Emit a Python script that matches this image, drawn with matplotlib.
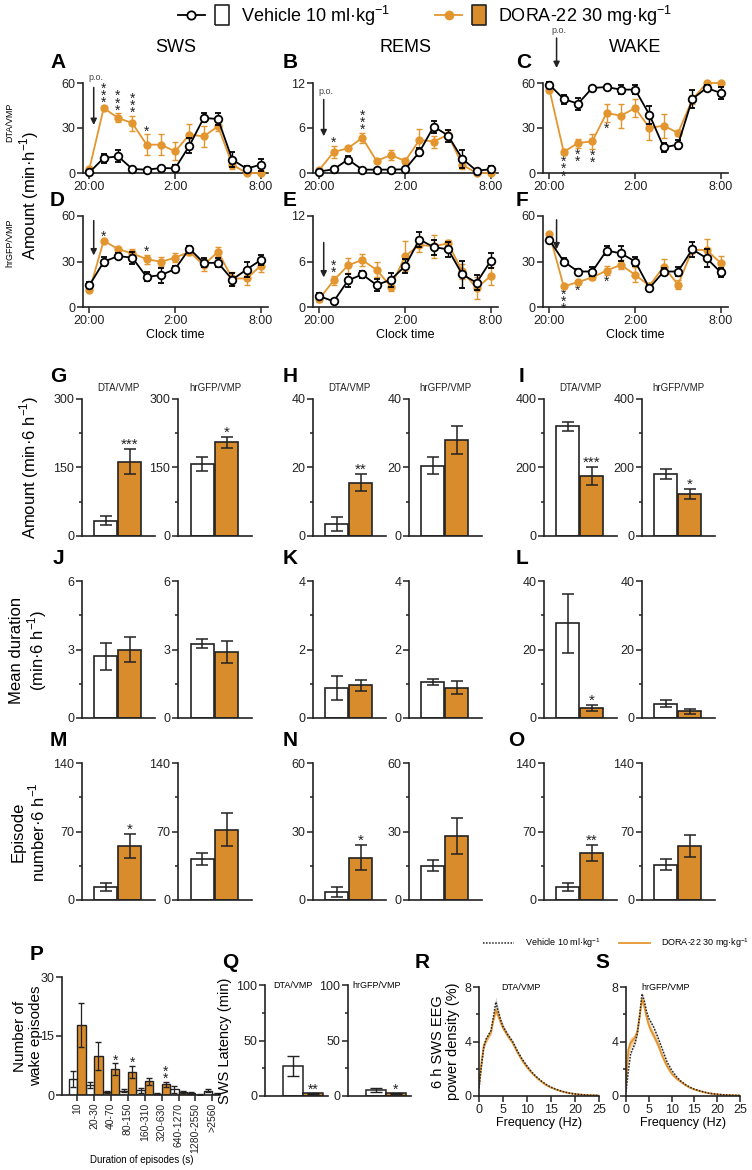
import numpy as np
import matplotlib
matplotlib.use('Agg')
import matplotlib.pyplot as plt
from matplotlib import font_manager
from matplotlib.lines import Line2D
from matplotlib.legend_handler import HandlerTuple
from matplotlib.ticker import MultipleLocator

names = {f.name for f in font_manager.fontManager.ttflist}
fam = 'Liberation Sans Narrow' if 'Liberation Sans Narrow' in names else 'Liberation Sans'
plt.rcParams['font.family'] = [fam, 'DejaVu Sans']
plt.rcParams['mathtext.fontset'] = 'custom'
plt.rcParams['mathtext.rm'] = fam
plt.rcParams['axes.linewidth'] = 1.2

ORG = '#E3962F'
BAR = '#D98C2C'
INK = '#222222'
W, H = 752, 1170

# ---- time course data (hours after 20:00) ----
hrs = [0, 1, 2, 3, 4, 5, 6, 7, 8, 9, 10, 11, 12]
hr_labels = ['20:00', '2:00', '8:00']

A_veh = [0.4, 10, 11.1, 2.7, 2.2, 3.3, 3.1, 18.2, 36.7, 36, 8.9, 2.9, 5.6]
A_veh_err = [0.5, 3, 4, 1, 1, 1.5, 2, 5, 3, 4, 5, 2, 4]
A_dora = [2.9, 43.3, 36.7, 33.3, 18.9, 18.9, 14.4, 25.6, 24.4, 31.1, 5.6, 0, 0]
A_dora_err = [1, 1.5, 3, 5, 7, 7, 6, 7, 7, 3, 3, 0.5, 0.5]

B_veh = [0.2, 0.5, 1.8, 0.45, 0.45, 0.45, 0.5, 2.8, 6.2, 5.0, 1.9, 0.3, 0.5]
B_veh_err = [0.2, 0.2, 0.5, 0.2, 0.2, 0.2, 0.2, 0.5, 0.8, 0.8, 1.2, 0.2, 0.5]
B_dora = [0.45, 2.8, 3.3, 4.7, 1.6, 2.4, 1.6, 4.4, 4.2, 5.1, 1.1, 0, 0]
B_dora_err = [0.2, 0.8, 0.2, 0.7, 0.3, 0.7, 0.4, 1.5, 0.8, 0.6, 0.6, 0.1, 0.1]

C_veh = [58.9, 49.3, 46.2, 56.7, 57.3, 55.6, 55.6, 38.9, 17.1, 18.9, 49.3, 56.7, 53.3]
C_veh_err = [1.5, 3, 4, 1, 1, 3, 3, 6, 3, 3, 6, 2, 4]
C_dora = [55.6, 14, 20, 21.1, 40, 38.2, 43.3, 30, 31.6, 26.7, 48.9, 60, 60]
C_dora_err = [1.5, 2, 3, 5, 6, 8, 6, 8, 8, 2, 3, 0.5, 0.5]

D_veh = [14.3, 29.8, 33.6, 32.5, 19.9, 21, 25, 38.5, 29.1, 29.1, 18.1, 24.7, 31]
D_veh_err = [2, 3, 2, 4, 3, 5, 2, 2, 3, 3, 4, 5, 3]
D_dora = [11, 43.7, 38.2, 35.3, 31.6, 29.8, 32.5, 36.4, 27.6, 36.5, 18.8, 18.8, 27.2]
D_dora_err = [1, 1, 1, 3, 3, 3, 3, 2, 4, 3, 4, 4, 4]

E_veh = [1.43, 0.74, 3.5, 4.3, 2.9, 3.6, 5.4, 8.9, 7.9, 7.6, 4.3, 3.2, 6.1]
E_veh_err = [0.4, 0.2, 0.8, 0.5, 0.8, 0.9, 0.9, 1, 1, 1, 1.8, 1, 1]
E_dora = [1.1, 3.5, 5.5, 6.2, 4.9, 2.7, 6.7, 8.2, 8.0, 8.4, 4.7, 2.5, 4.1]
E_dora_err = [0.5, 0.6, 1, 0.8, 1, 0.6, 2, 1, 1.5, 0.5, 1, 1.5, 1.2]

F_veh = [44.2, 30, 23.4, 23.4, 37.2, 35.4, 30, 12.5, 23.4, 23.4, 38, 32.2, 22.8]
F_veh_err = [1.5, 2.5, 1.5, 3, 3, 5, 3, 2, 2, 3, 5, 6, 3]
F_dora = [48.1, 13.6, 16.4, 19.5, 24, 27.8, 21.2, 14, 26.7, 14.7, 37.6, 37.6, 28.9]
F_dora_err = [1, 1, 1, 2, 3, 3, 5, 2, 5, 3, 2, 7, 5]

# ---- 6 h summaries: [vehicle, dora], DTA/VMP then hrGFP/VMP ----
G_dta, G_dta_err = [33, 163], [10, 28]
G_gfp, G_gfp_err = [158, 205], [15, 12]
H_dta, H_dta_err = [3.5, 15.5], [2, 2.5]
H_gfp, H_gfp_err = [20.5, 28], [2.5, 4]
I_dta, I_dta_err = [320, 175], [12, 25]
I_gfp, I_gfp_err = [180, 122], [15, 15]
J_dta, J_dta_err = [2.7, 3.0], [0.6, 0.55]
J_gfp, J_gfp_err = [3.25, 2.88], [0.2, 0.48]
K_dta, K_dta_err = [0.88, 0.95], [0.36, 0.16]
K_gfp, K_gfp_err = [1.05, 0.89], [0.08, 0.18]
L_dta, L_dta_err = [27.7, 2.9], [8.6, 0.8]
L_gfp, L_gfp_err = [4.2, 2.0], [1.0, 0.7]
M_dta, M_dta_err = [13.3, 55.3], [4.5, 12.5]
M_gfp, M_gfp_err = [42, 71.7], [6, 17]
N_dta, N_dta_err = [3.4, 18.5], [2.3, 5.5]
N_gfp, N_gfp_err = [15, 28], [2.5, 8]
O_dta, O_dta_err = [13.6, 47.9], [4, 8.5]
O_gfp, O_gfp_err = [36, 55.4], [5.5, 11]

# ---- wake episode distribution ----
dur_cats = ['10', '20-30', '40-70', '80-150', '160-310', '320-630', '640-1270', '1280-2550', '>2560']
P_veh = [4.1, 2.5, 0.7, 1.1, 1.2, 0.35, 1.4, 0.45, 1.1]
P_veh_err = [2.0, 0.7, 0.3, 0.4, 0.6, 0.15, 0.8, 0.3, 0.4]
P_dora = [17.8, 9.9, 6.6, 5.9, 3.5, 2.7, 0.8, 0.1, 0.35]
P_dora_err = [5.5, 3.6, 1.5, 1.5, 0.9, 0.7, 0.2, 0.1, 0.2]
P_stars = [0, 0, 1, 1, 0, 2, 0, 0, 0]

# ---- SWS latency ----
Q_dta, Q_dta_err = [27, 2.4], [9, 0.5]
Q_gfp, Q_gfp_err = [5.4, 2.4], [1.5, 0.6]

# ---- EEG spectra ----
freq = [0, 0.5, 1, 1.5, 2, 2.5, 3, 3.5, 4, 4.5, 5, 5.5, 6, 7, 8, 9, 10, 11, 12, 13,
        14, 15, 16, 17, 18, 19, 20, 21, 22, 23, 24, 25]
R_veh = [0.6, 2.2, 3.6, 4.2, 4.5, 4.8, 5.8, 6.9, 6.2, 5.6, 5.1, 4.8, 4.5, 4.0, 3.3, 2.7,
         2.2, 1.75, 1.4, 1.1, 0.85, 0.65, 0.5, 0.38, 0.28, 0.2, 0.15, 0.11, 0.08, 0.06, 0.05, 0.04]
R_veh_sem = [0.1, 0.2, 0.2, 0.2, 0.2, 0.2, 0.3, 0.4, 0.3, 0.2, 0.2, 0.15, 0.15, 0.1, 0.1, 0.1,
             0.08, 0.05, 0.05, 0.04, 0.03, 0.03, 0.02, 0.02, 0.02, 0.01, 0.01, 0.01, 0.01, 0.01, 0.01, 0.01]
R_dora = [0.7, 2.4, 3.7, 4.1, 4.4, 4.7, 5.6, 6.3, 5.9, 5.4, 5.0, 4.7, 4.4, 3.9, 3.2, 2.6,
          2.1, 1.7, 1.35, 1.05, 0.8, 0.62, 0.48, 0.36, 0.27, 0.2, 0.15, 0.11, 0.08, 0.06, 0.05, 0.04]
R_dora_sem = [0.1, 0.2, 0.2, 0.2, 0.2, 0.2, 0.25, 0.3, 0.25, 0.2, 0.2, 0.15, 0.15, 0.1, 0.1, 0.1,
              0.08, 0.05, 0.05, 0.04, 0.03, 0.03, 0.02, 0.02, 0.02, 0.01, 0.01, 0.01, 0.01, 0.01, 0.01, 0.01]
S_veh = [0.3, 1.8, 3.1, 3.5, 3.9, 4.6, 5.9, 7.5, 7.0, 6.2, 5.7, 5.4, 5.1, 4.3, 3.4, 2.5,
         1.9, 1.45, 1.1, 0.85, 0.65, 0.5, 0.4, 0.3, 0.22, 0.17, 0.13, 0.1, 0.08, 0.06, 0.05, 0.04]
S_veh_sem = [0.05, 0.1, 0.1, 0.1, 0.1, 0.1, 0.1, 0.15, 0.1, 0.1, 0.1, 0.1, 0.1, 0.1, 0.08, 0.06,
             0.05, 0.04, 0.03, 0.03, 0.02, 0.02, 0.02, 0.01, 0.01, 0.01, 0.01, 0.01, 0.01, 0.01, 0.01, 0.01]
S_dora = [0.8, 3.4, 3.9, 4.1, 4.3, 4.8, 5.9, 7.1, 6.6, 5.8, 5.2, 4.8, 4.5, 3.8, 2.9, 2.2,
          1.65, 1.3, 1.05, 0.8, 0.62, 0.48, 0.38, 0.29, 0.21, 0.16, 0.12, 0.09, 0.07, 0.06, 0.05, 0.04]
S_dora_sem = [0.3, 0.5, 0.4, 0.3, 0.3, 0.3, 0.3, 0.3, 0.3, 0.3, 0.3, 0.3, 0.3, 0.3, 0.25, 0.2,
              0.15, 0.1, 0.08, 0.06, 0.05, 0.04, 0.03, 0.02, 0.02, 0.01, 0.01, 0.01, 0.01, 0.01, 0.01, 0.01]


fig = plt.figure(figsize=(W / 100, H / 100), dpi=100)


def box(x0, y0, x1, y1):
    return fig.add_axes([x0 / W, 1 - y1 / H, (x1 - x0) / W, (y1 - y0) / H])


def ftext(x, y, s, **kw):
    fig.text(x / W, 1 - y / H, s, **kw)


def style(ax, fs=8.5):
    ax.spines['top'].set_visible(False)
    ax.spines['right'].set_visible(False)
    for s in ('left', 'bottom'):
        ax.spines[s].set_color(INK)
    ax.tick_params(colors=INK, labelsize=fs, length=4, width=1.1, pad=1.5)
    ax.tick_params(which='minor', length=2.5, width=1.1, colors=INK)


def stars(ax, x, y, n, up=True, fs=10):
    # stacked asterisks, like the original figure
    if n == 0:
        return
    s = '\n'.join(['*'] * n)
    ax.annotate(s, (x, y), xytext=(0, -3 if up else 0), textcoords='offset points',
                ha='center', va='bottom' if up else 'top', fontsize=fs,
                linespacing=0.38, annotation_clip=False, color=INK)


def time_panel(ax, veh, veh_e, dora, dora_e, ymax, star_list):
    c1 = ax.errorbar(hrs, dora, yerr=dora_e, color=ORG, marker='o', ms=5, mec=ORG,
                     lw=1.3, elinewidth=1, capsize=2.5, capthick=1, zorder=3)
    c2 = ax.errorbar(hrs, veh, yerr=veh_e, color='black', marker='o', ms=5.5, mfc='white',
                     mec='black', mew=1.3, lw=1.3, elinewidth=1, capsize=2.5, capthick=1, zorder=4)
    for c in (c1, c2):
        for a in c.get_children():
            a.set_clip_on(False)
    ax.set_xlim(-0.45, 12.5)
    ax.set_ylim(0, ymax)
    ax.set_yticks([0, ymax / 2, ymax])
    ax.set_yticklabels(['0', '%g' % (ymax / 2), '%g' % ymax])
    ax.set_xticks([0, 6, 12])
    ax.set_xticklabels(hr_labels)
    style(ax, 9)
    for i, n, up in star_list:
        if up:
            stars(ax, i, dora[i] + dora_e[i], n, True)
        else:
            stars(ax, i, dora[i] - dora_e[i], n, False)


def arrow(ax, x, y0, y1, po=None):
    ax.annotate('', xy=(x, y1), xytext=(x, y0), annotation_clip=False,
                arrowprops=dict(arrowstyle='-|>', lw=1.1, color=INK, mutation_scale=9,
                                shrinkA=0, shrinkB=0))
    if po is not None:
        ax.text(x + 0.15, po, 'p.o.', ha='center', va='bottom', fontsize=6.5, color='#444',
                clip_on=False)


def bar_panel(ax, vals, errs, ymax, sig=0, title=None):
    ax.bar([0, 1], vals, width=0.96, color=['white', BAR], edgecolor=INK, lw=1.2, zorder=2)
    ax.errorbar([0, 1], vals, yerr=errs, fmt='none', ecolor=INK, elinewidth=1.1,
                capsize=4.5, capthick=1.1, zorder=3)
    ax.set_xlim(-1.0, 2.05)
    ax.set_ylim(0, ymax)
    ax.set_yticks([0, ymax / 2, ymax])
    ax.set_yticklabels(['0', '%g' % (ymax / 2), '%g' % ymax])
    ax.yaxis.set_minor_locator(MultipleLocator(ymax / 4))
    ax.set_xticks([])
    style(ax, 9)
    if sig:
        ax.annotate('*' * sig, (1, vals[1] + errs[1]), xytext=(0, -2), textcoords='offset points',
                    ha='center', va='bottom', fontsize=11, color=INK, annotation_clip=False)
    if title:
        ax.set_title(title, fontsize=7, pad=6, color=INK)


# ---------------- rows 1 and 2 ----------------
cols_x = [(83, 268), (313, 498), (543, 728)]
axA = box(83, 83, 268, 173)
axB = box(313, 83, 498, 173)
axC = box(543, 83, 728, 173)
axD = box(83, 216, 268, 307)
axE = box(313, 216, 498, 307)
axF = box(543, 216, 728, 307)

time_panel(axA, A_veh, A_veh_err, A_dora, A_dora_err, 60, [(1, 3, True), (2, 3, True), (3, 3, True), (4, 1, True)])
time_panel(axB, B_veh, B_veh_err, B_dora, B_dora_err, 12, [(1, 1, True), (3, 3, True)])
time_panel(axC, C_veh, C_veh_err, C_dora, C_dora_err, 60, [(1, 3, False), (2, 2, False), (3, 2, False), (4, 1, False)])
time_panel(axD, D_veh, D_veh_err, D_dora, D_dora_err, 60, [(1, 1, True), (4, 1, True)])
time_panel(axE, E_veh, E_veh_err, E_dora, E_dora_err, 12, [(1, 2, True)])
time_panel(axF, F_veh, F_veh_err, F_dora, F_dora_err, 60, [(1, 3, False), (2, 1, False), (4, 1, False)])
for ax in (axD, axE, axF):
    ax.set_xlabel('Clock time', fontsize=9, labelpad=2)

arrow(axA, 0.3, 57, 32, po=60.5)
arrow(axB, 0.3, 9.8, 4.9, po=10.3)
arrow(axC, 0.5, 90, 70, po=92)
arrow(axD, 0.3, 57, 34)
arrow(axE, 0.3, 8.5, 3.9)
arrow(axF, 0.5, 57.5, 38)

for (x0, x1), t in zip(cols_x, ['SWS', 'REMS', 'WAKE']):
    ftext((x0 + x1) / 2, 47, t, ha='center', va='center', fontsize=13)

ftext(29, 195, 'Amount (min·h$^{-1}$)', rotation=90, ha='center', va='center', fontsize=12)
ftext(10, 122, 'DTA/VMP', rotation=90, ha='center', va='center', fontsize=6.5)
ftext(10, 243, 'hrGFP/VMP', rotation=90, ha='center', va='center', fontsize=6.5)

# ---------------- bar rows ----------------
bar_x = [(82, 155), (178, 252), (313, 386), (409, 482), (544, 617), (642, 715)]
rows_y = [(399, 536), (581, 718), (763, 900)]
bar_data = [
    [(G_dta, G_dta_err, 300, 3), (G_gfp, G_gfp_err, 300, 1),
     (H_dta, H_dta_err, 40, 2), (H_gfp, H_gfp_err, 40, 0),
     (I_dta, I_dta_err, 400, 3), (I_gfp, I_gfp_err, 400, 1)],
    [(J_dta, J_dta_err, 6, 0), (J_gfp, J_gfp_err, 6, 0),
     (K_dta, K_dta_err, 4, 0), (K_gfp, K_gfp_err, 4, 0),
     (L_dta, L_dta_err, 40, 1), (L_gfp, L_gfp_err, 40, 0)],
    [(M_dta, M_dta_err, 140, 1), (M_gfp, M_gfp_err, 140, 0),
     (N_dta, N_dta_err, 60, 1), (N_gfp, N_gfp_err, 60, 0),
     (O_dta, O_dta_err, 140, 2), (O_gfp, O_gfp_err, 140, 0)],
]
for r, (y0, y1) in enumerate(rows_y):
    for c, (x0, x1) in enumerate(bar_x):
        vals, errs, ymax, sig = bar_data[r][c]
        ax = box(x0, y0, x1, y1)
        title = None
        if r == 0:
            title = 'DTA/VMP' if c % 2 == 0 else 'hrGFP/VMP'
        bar_panel(ax, vals, errs, ymax, sig, title)

ftext(29, 467, 'Amount (min·6 h$^{-1}$)', rotation=90, ha='center', va='center', fontsize=12)
ftext(29, 650, 'Mean duration\n(min·6 h$^{-1}$)', rotation=90, ha='center', va='center',
      fontsize=12, linespacing=1.1)
ftext(29, 832, 'Episode\nnumber·6 h$^{-1}$', rotation=90, ha='center', va='center',
      fontsize=12, linespacing=1.1)

# ---------------- P: wake episode histogram ----------------
axP = box(62, 977, 220, 1095)
xp = np.arange(len(dur_cats))
axP.bar(xp - 0.25, P_veh, width=0.5, color='white', edgecolor=INK, lw=1, zorder=2)
axP.bar(xp + 0.25, P_dora, width=0.5, color=BAR, edgecolor=INK, lw=1, zorder=2)
axP.errorbar(xp - 0.25, P_veh, yerr=P_veh_err, fmt='none', ecolor=INK, elinewidth=0.9, capsize=2, zorder=3)
axP.errorbar(xp + 0.25, P_dora, yerr=P_dora_err, fmt='none', ecolor=INK, elinewidth=0.9, capsize=2, zorder=3)
for i, n in enumerate(P_stars):
    stars(axP, i + 0.25, P_dora[i] + P_dora_err[i], n, True, fs=10)
axP.set_xlim(-0.9, 8.45)
axP.set_ylim(0, 30)
axP.set_yticks([0, 15, 30])
axP.set_xticks(xp)
axP.set_xticklabels(dur_cats, rotation=90)
style(axP, 9)
axP.tick_params(axis='x', labelsize=7.5)
ftext(142, 1160, 'Duration of episodes (s)', ha='center', va='center', fontsize=7)
ftext(28, 1036, 'Number of\nwake episodes', rotation=90, ha='center', va='center',
      fontsize=11, linespacing=1.1)

# ---------------- Q: SWS latency ----------------
for (x0, x1), vals, errs, sig, t in [((265, 328), Q_dta, Q_dta_err, 2, 'DTA/VMP'),
                                      ((348, 411), Q_gfp, Q_gfp_err, 1, 'hrGFP/VMP')]:
    ax = box(x0, 985, x1, 1096)
    ax.bar([0, 1], vals, width=0.97, color=['white', BAR], edgecolor=INK, lw=1.1, zorder=2)
    ax.errorbar([0, 1], vals, yerr=errs, fmt='none', ecolor=INK, elinewidth=1, capsize=4, zorder=3)
    ax.annotate('*' * sig, (1, vals[1] + errs[1]), xytext=(0, -3), textcoords='offset points',
                ha='center', va='bottom', fontsize=10, color=INK)
    ax.set_xlim(-1.4, 1.75)
    ax.set_ylim(0, 100)
    ax.set_yticks([0, 50, 100])
    ax.yaxis.set_minor_locator(MultipleLocator(25))
    ax.set_xticks([])
    style(ax, 9)
    ax.text(0.45, 1.0, t, transform=ax.transAxes, ha='center', va='center', fontsize=6.5)
    if t == 'DTA/VMP':
        ax.set_ylabel('SWS Latency (min)', fontsize=10.5, labelpad=3)

# ---------------- R, S: EEG spectra ----------------
for (x0, x1), veh, vs, dora, ds, t in [((479, 599), R_veh, R_veh_sem, R_dora, R_dora_sem, 'DTA/VMP'),
                                        ((626, 740), S_veh, S_veh_sem, S_dora, S_dora_sem, 'hrGFP/VMP')]:
    ax = box(x0, 987, x1, 1096)
    fr = np.array(freq)
    v, vsm = np.array(veh), np.array(vs)
    d, dsm = np.array(dora), np.array(ds)
    ax.fill_between(fr, v - vsm, v + vsm, color='#BBBBBB', alpha=0.7, lw=0)
    ax.fill_between(fr, d - dsm, d + dsm, color=ORG, alpha=0.45, lw=0)
    ax.plot(fr, d, color=ORG, lw=1.3)
    ax.plot(fr, v, color=INK, lw=1.1, ls=(0, (1, 1)))
    ax.set_xlim(0, 25)
    ax.set_ylim(0, 8)
    ax.set_yticks([0, 4, 8])
    ax.yaxis.set_minor_locator(MultipleLocator(2))
    ax.set_xticks([0, 5, 10, 15, 20, 25])
    style(ax, 9)
    ax.set_xlabel('Frequency (Hz)', fontsize=9, labelpad=1)
    ax.text(0.35, 1.0, t, transform=ax.transAxes, ha='center', va='center', fontsize=6.5)
    if t == 'DTA/VMP':
        ax.set_ylabel('6 h SWS EEG\npower density (%)', fontsize=10.5, linespacing=1.1, labelpad=3)

# ---------------- legends ----------------
tall_box = [(-0.32, -0.5), (0.32, -0.5), (0.32, 0.5), (-0.32, 0.5), (-0.32, -0.5)]
h1 = (Line2D([], [], color='black', marker='o', mfc='white', mec='black', ms=6, mew=1.3, lw=1.3),
      Line2D([], [], ls='none', marker=tall_box, ms=15, mfc='white', mec=INK, mew=1.2))
h2 = (Line2D([], [], color=ORG, marker='o', ms=6, lw=1.3),
      Line2D([], [], ls='none', marker=tall_box, ms=15, mfc=BAR, mec=INK, mew=1.2))
fig.legend([h1, h2], ['Vehicle 10 ml·kg$^{-1}$', 'DORA-22 30 mg·kg$^{-1}$'],
           handler_map={tuple: HandlerTuple(ndivide=None, pad=0.2)},
           ncol=2, loc='center', bbox_to_anchor=(425 / W, 1 - 16 / H), frameon=False,
           fontsize=13, handlelength=3.2, handleheight=1.0, columnspacing=2.5, handletextpad=0.3)

fig.legend([Line2D([], [], color=INK, lw=1.1, ls=(0, (1, 1))), Line2D([], [], color=ORG, lw=1.3)],
           ['Vehicle 10 ml·kg$^{-1}$', 'DORA-22 30 mg·kg$^{-1}$'],
           ncol=2, loc='center', bbox_to_anchor=(616 / W, 1 - 943 / H), frameon=False,
           fontsize=6.5, handlelength=3.5, columnspacing=2.0, handletextpad=1.2)

# ---------------- panel letters ----------------
letters = [('A', 58, 62), ('B', 290, 62), ('C', 524, 62),
           ('D', 57, 200), ('E', 290, 200), ('F', 522, 200),
           ('G', 58, 376), ('H', 290, 376), ('I', 522, 376),
           ('J', 58, 558), ('K', 290, 558), ('L', 522, 558),
           ('M', 58, 740), ('N', 290, 740), ('O', 516, 740),
           ('P', 37, 955), ('Q', 230, 962), ('R', 422, 962), ('S', 602, 962)]
for s, x, y in letters:
    ftext(x, y, s, ha='center', va='center', fontsize=15, fontweight='bold')

fig.savefig('out.png', dpi=100)
